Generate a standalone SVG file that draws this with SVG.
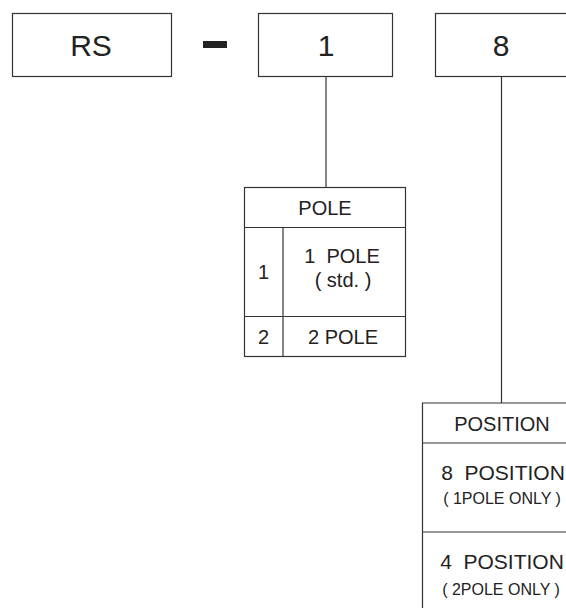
<svg xmlns="http://www.w3.org/2000/svg" width="566" height="610" viewBox="0 0 566 610">
<style>
.b{fill:#fff;stroke:#333;stroke-width:1.2}
.l{stroke:#333;stroke-width:1.2;fill:none}
text{font-family:"Liberation Sans",Arial,sans-serif;fill:#222;text-anchor:middle}
.big{font-size:30px}
.m{font-size:20px}
.p{font-size:21px}
.s{font-size:16px}
</style>
<rect width="566" height="610" fill="#fff"/>
<g id="node-rs">
<rect class="b" x="12.5" y="13.5" width="159" height="63"/>
<text class="big" x="91" y="56">RS</text>
</g>
<g id="dash">
<rect x="203" y="41" width="24" height="7" fill="#222"/>
</g>
<g id="node-1">
<rect class="b" x="258.5" y="13.5" width="134" height="63"/>
<text class="big" x="326" y="56">1</text>
</g>
<g id="node-8">
<rect class="b" x="435.5" y="13.5" width="140" height="63"/>
<text class="big" x="501" y="56">8</text>
</g>
<g id="connectors">
<line class="l" x1="326" y1="76.5" x2="326" y2="187.5"/>
<line class="l" x1="501.5" y1="76.5" x2="501.5" y2="403"/>
</g>
<g id="pole-table">
<rect class="b" x="244.5" y="187.5" width="161" height="169"/>
<line class="l" x1="244.5" y1="227.5" x2="405.5" y2="227.5"/>
<line class="l" x1="244.5" y1="316.5" x2="405.5" y2="316.5"/>
<line class="l" x1="283" y1="227.5" x2="283" y2="356.5"/>
<text class="m" x="325" y="215">POLE</text>
<text class="m" x="263.5" y="279">1</text>
<text class="m" x="342" y="263" xml:space="preserve">1  POLE</text>
<text class="m" x="343" y="287">( std. )</text>
<text class="m" x="263.5" y="344">2</text>
<text class="m" x="343" y="344">2 POLE</text>
</g>
<g id="position-table">
<polyline class="l" points="422.5,608 422.5,403 570,403"/>
<line class="l" x1="422.5" y1="443" x2="570" y2="443"/>
<line class="l" x1="422.5" y1="532" x2="570" y2="532"/>
<text class="m" x="502" y="431">POSITION</text>
<text class="p" x="503" y="480" xml:space="preserve">8  POSITION</text>
<text class="s" x="502" y="504">( 1POLE ONLY )</text>
<text class="p" x="502" y="569" xml:space="preserve">4  POSITION</text>
<text class="s" x="501" y="595">( 2POLE ONLY )</text>
</g>
</svg>
